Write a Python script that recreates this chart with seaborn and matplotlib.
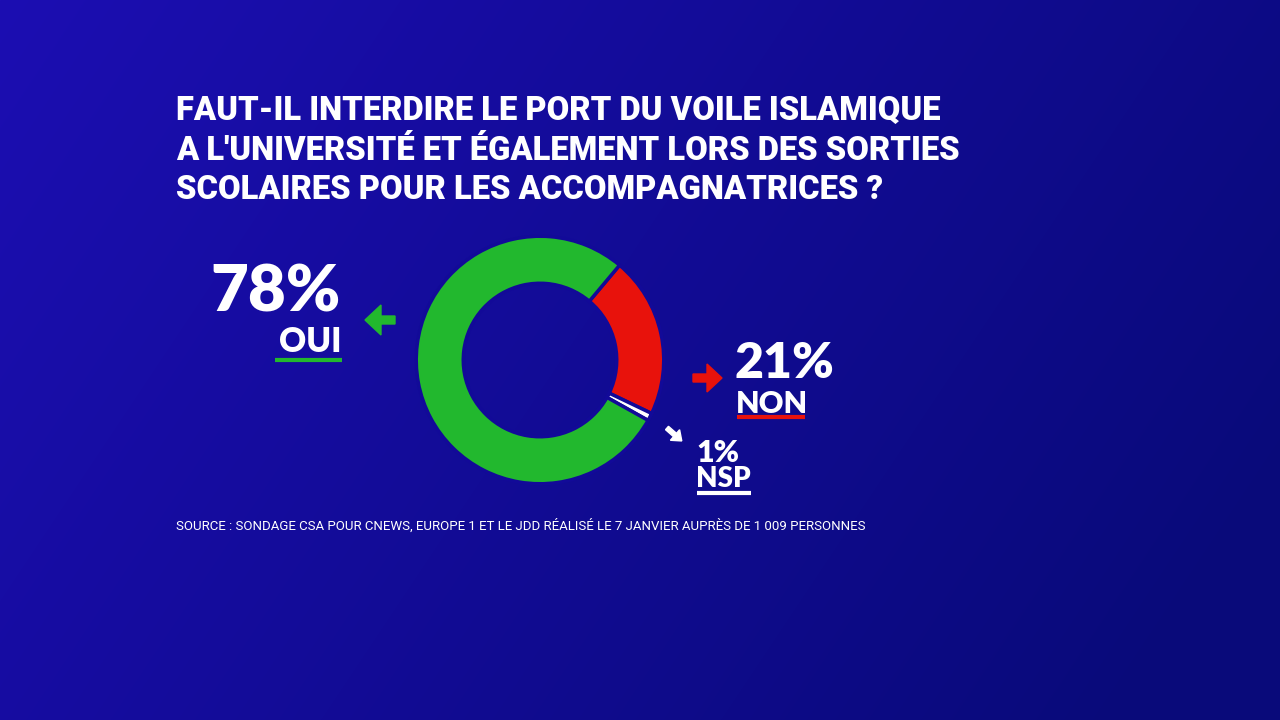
import numpy as np
import matplotlib
matplotlib.use("Agg")
import matplotlib.pyplot as plt
import seaborn as sns

# ---- data ----
categories = ["NON", "NSP", "OUI"]
values = [21, 1, 78]
colors = ["#e8120c", "#ffffff", "#22b82e"]
title_lines = [
    "FAUT-IL INTERDIRE LE PORT DU VOILE ISLAMIQUE",
    "A L'UNIVERSITÉ ET ÉGALEMENT LORS DES SORTIES",
    "SCOLAIRES POUR LES ACCOMPAGNATRICES ?",
]
source = "SOURCE : SONDAGE CSA POUR CNEWS, EUROPE 1 ET LE JDD RÉALISÉ LE 7 JANVIER AUPRÈS DE 1 009 PERSONNES"

sns.set_theme(style="white")
plt.rcParams['font.family'] = ['Roboto', 'DejaVu Sans']

W, H = 1280, 720
fig = plt.figure(figsize=(12.8, 7.2), dpi=100)

# background gradient
bg = fig.add_axes([0, 0, 1, 1], zorder=0)
yy, xx = np.mgrid[0:H, 0:W]
t = np.clip(0.8 * xx / W + 0.3 * yy / H, 0, 1)
c1 = np.array([0x1c, 0x0e, 0xb2]) / 255
c2 = np.array([0x09, 0x0a, 0x7a]) / 255
img = c1[None, None, :] * (1 - t[..., None]) + c2[None, None, :] * t[..., None]
bg.imshow(img, extent=[0, W, H, 0], aspect='auto')
bg.set_xlim(0, W)
bg.set_ylim(H, 0)
bg.axis('off')

# overlay for text
ov = fig.add_axes([0, 0, 1, 1], zorder=2)
ov.set_xlim(0, W)
ov.set_ylim(H, 0)
ov.axis('off')
ov.patch.set_alpha(0)

title_font = ['Roboto', 'DejaVu Sans']
for i, line in enumerate(title_lines):
    ov.text(176, 120 + i * 39.5, line, color='white', fontsize=23.6,
            fontweight='black', fontstretch='condensed', va='baseline', ha='left',
            family=title_font)

num_font = ['Lato', 'DejaVu Sans']

# OUI
ov.text(341, 312, f"{values[2]}%", color='white', fontsize=47, fontweight='heavy',
        ha='right', va='baseline', family=num_font)
ov.text(341, 352, categories[2], color='white', fontsize=24, fontweight='heavy',
        ha='right', va='baseline', family=num_font)
ov.plot([275, 342], [360, 360], color=colors[2], lw=3, solid_capstyle='butt')
ov.arrow(395, 320, -14, 0, width=8, head_width=30, head_length=16,
         color=colors[2])

# NON
ov.text(735, 378, f"{values[0]}%", color='white', fontsize=36, fontweight='heavy',
        ha='left', va='baseline', family=num_font)
ov.text(736, 413, categories[0], color='white', fontsize=22, fontweight='heavy',
        ha='left', va='baseline', family=num_font)
ov.plot([737, 805], [417, 417], color=colors[0], lw=3, solid_capstyle='butt')
ov.arrow(693, 378, 14, 0, width=8, head_width=28, head_length=15,
         color=colors[0])

# NSP
ov.text(696, 462, f"{values[1]}%", color='white', fontsize=22, fontweight='heavy',
        ha='left', va='baseline', family=num_font)
ov.text(696, 487, categories[1], color='white', fontsize=20, fontweight='heavy',
        ha='left', va='baseline', family=num_font)
ov.plot([697, 751], [493, 493], color='white', lw=3, solid_capstyle='butt')
ov.arrow(667, 428, 8, 7, width=4.5, head_width=14, head_length=9, color='white')

# source
ov.text(176, 530, source, color='white', fontsize=9.5, ha='left', va='baseline',
        fontstretch='condensed', family=title_font)

# donut
cx, cy, R = 540, 360, 125
dax = fig.add_axes([(cx - R) / W, (H - cy - R) / H, 2 * R / W, 2 * R / H], zorder=3)
dax.pie(values, colors=colors, startangle=50, counterclock=False,
        wedgeprops=dict(width=0.38, edgecolor='#120a98', linewidth=2.5))
dax.set_xlim(-1.01, 1.01)
dax.set_ylim(-1.01, 1.01)
dax.set_aspect('equal')
dax.axis('off')
dax.patch.set_alpha(0)

fig.savefig("out.png", dpi=100)
